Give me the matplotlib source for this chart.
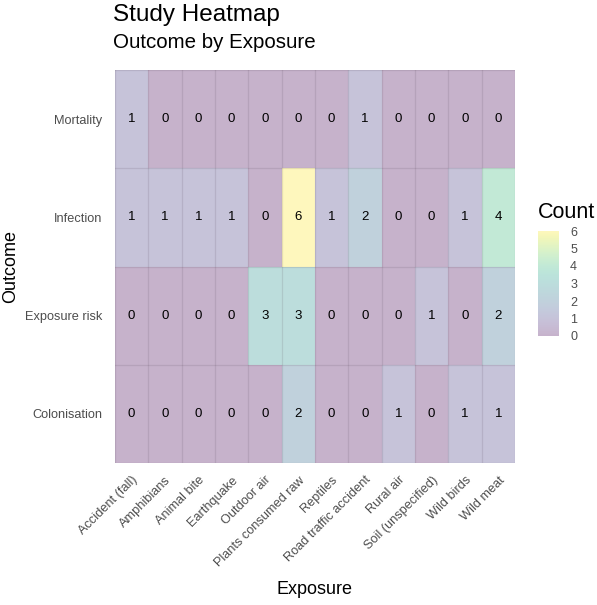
import numpy as np
import matplotlib
matplotlib.use("Agg")
import matplotlib.pyplot as plt

plt.rcParams["font.family"] = ["Liberation Sans", "DejaVu Sans"]

exposures = ["Accident (fall)", "Amphibians", "Animal bite", "Earthquake",
             "Outdoor air", "Plants consumed raw", "Reptiles",
             "Road traffic accident", "Rural air", "Soil (unspecified)",
             "Wild birds", "Wild meat"]
# rows bottom to top
outcomes = ["Colonisation", "Exposure risk", "Infection", "Mortality"]

colonisation = [0, 0, 0, 0, 0, 2, 0, 0, 1, 0, 1, 1]
exposure_risk = [0, 0, 0, 0, 3, 3, 0, 0, 0, 1, 0, 2]
infection = [1, 1, 1, 1, 0, 6, 1, 2, 0, 0, 1, 4]
mortality = [1, 0, 0, 0, 0, 0, 0, 1, 0, 0, 0, 0]

counts = np.array([colonisation, exposure_risk, infection, mortality])

fig = plt.figure(figsize=(5.97, 6.05), dpi=100)
ax = fig.add_axes([115 / 597, 1 - 463 / 605, 400 / 597, 393 / 605])

mesh = ax.pcolormesh(np.arange(len(exposures) + 1) - 0.5,
                     np.arange(len(outcomes) + 1) - 0.5,
                     counts, cmap="viridis", vmin=0, vmax=6, alpha=0.3,
                     edgecolor="none")

for i in range(counts.shape[0]):
    for j in range(counts.shape[1]):
        ax.text(j, i, str(counts[i, j]), ha="center", va="center",
                fontsize=9.5, color="black")

ax.set_xlim(-0.5, len(exposures) - 0.5)
ax.set_ylim(-0.5, len(outcomes) - 0.5)
ax.set_xticks(range(len(exposures)))
ax.set_xticklabels(exposures, rotation=45, ha="right", va="top",
                   rotation_mode="anchor")
ax.set_yticks(range(len(outcomes)))
ax.set_yticklabels(outcomes)
ax.set_xticks(np.arange(len(exposures) + 1) - 0.5, minor=True)
ax.set_yticks(np.arange(len(outcomes) + 1) - 0.5, minor=True)
ax.set_axisbelow(False)
ax.grid(which="minor", color="#5a4a5a", alpha=0.15, linewidth=0.9)
ax.grid(which="major", visible=False)
ax.tick_params(which="both", length=0, labelsize=9.2, labelcolor="#4d4d4d")
ax.tick_params(axis="y", pad=9)
ax.tick_params(axis="x", pad=8)
for s in ax.spines.values():
    s.set_visible(False)

ax.set_xlabel("Exposure", fontsize=13, labelpad=9)
ax.set_ylabel("Outcome", fontsize=13, labelpad=4)

fig.text(113 / 597, 1 - 21 / 605, "Study Heatmap", fontsize=17.5, va="baseline")
fig.text(113 / 597, 1 - 48 / 605, "Outcome by Exposure", fontsize=14.8,
         va="baseline")

cax = fig.add_axes([538 / 597, 1 - 336 / 605, 21 / 597, 105 / 605])
cb = fig.colorbar(mesh, cax=cax, ticks=range(7))
cb.outline.set_visible(False)
cax.tick_params(length=0, labelsize=9, labelcolor="#4d4d4d", pad=8)
fig.text(538 / 597, 1 - 218 / 605, "Count", fontsize=15.5, va="baseline")

fig.savefig("out.png", dpi=100)
